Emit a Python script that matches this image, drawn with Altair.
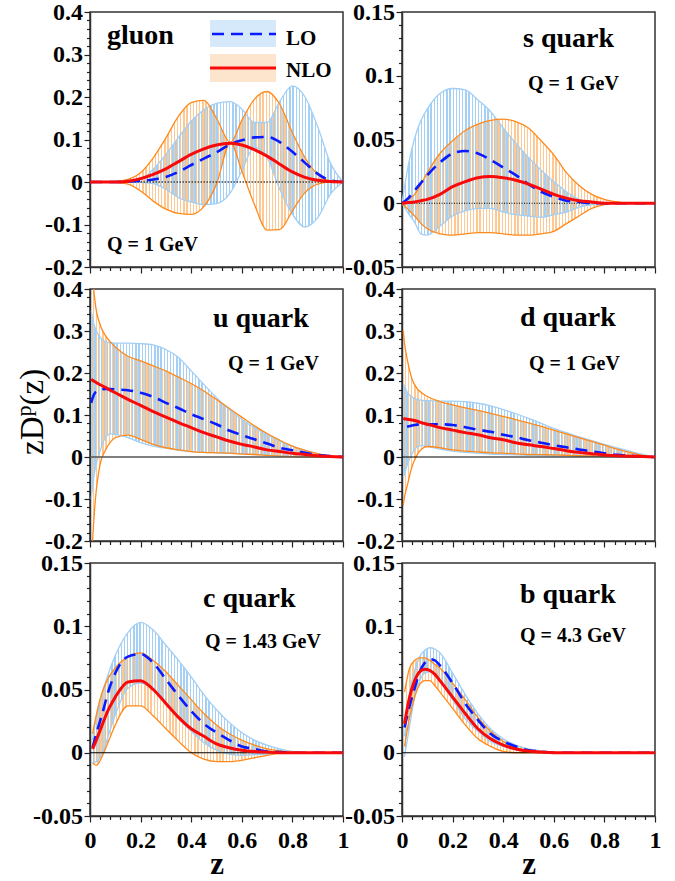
import altair as alt
import pandas as pd

SERIF = "Liberation Serif"

# ---------------------------------------------------------------
# Fragmentation functions zD^p(z): LO / NLO central values and
# uncertainty bands (lo, hi) for each parton.
# ---------------------------------------------------------------

# gluon, Q = 1 GeV
g_z = [0, 0.05, 0.1, 0.15, 0.2, 0.25, 0.3, 0.35, 0.4, 0.45, 0.5, 0.555,
       0.6, 0.65, 0.7, 0.75, 0.8, 0.85, 0.9, 0.95, 1.0]
g_lo_c = [0, 0, 0, 0.001, 0.003, 0.006, 0.012, 0.024, 0.04, 0.055, 0.07, 0.089,
          0.098, 0.105, 0.106, 0.094, 0.071, 0.045, 0.019, 0.004, 0]
g_lo_lo = [0, 0, 0, 0, -0.001, -0.004, -0.017, -0.037, -0.047, -0.053, -0.051, -0.025,
           0.026, 0.082, 0.057, -0.017, -0.076, -0.106, -0.084, -0.029, 0]
g_lo_hi = [0, 0, 0, 0.001, 0.005, 0.03, 0.065, 0.105, 0.143, 0.17, 0.185, 0.189,
           0.172, 0.14, 0.14, 0.19, 0.226, 0.2, 0.13, 0.045, 0]
g_nlo_c = [0, 0, 0, 0.002, 0.008, 0.018, 0.031, 0.048, 0.065, 0.078, 0.087, 0.091,
           0.087, 0.076, 0.061, 0.042, 0.024, 0.011, 0.004, 0.001, 0]
g_nlo_lo = [0, 0, -0.001, -0.005, -0.021, -0.045, -0.064, -0.074, -0.076, -0.058, -0.005, 0.093,
            0.026, -0.053, -0.113, -0.112, -0.068, -0.025, -0.005, 0, 0]
g_nlo_hi = [0, 0, 0.001, 0.006, 0.022, 0.057, 0.104, 0.155, 0.187, 0.192, 0.15, 0.093,
            0.145, 0.195, 0.213, 0.183, 0.116, 0.057, 0.018, 0.002, 0]

# s quark, Q = 1 GeV
s_z = [0, 0.025, 0.05, 0.075, 0.1, 0.15, 0.2, 0.25, 0.3, 0.35, 0.4, 0.45, 0.5,
       0.55, 0.6, 0.65, 0.7, 0.75, 0.8, 0.85, 0.9, 0.95, 1.0]
s_lo_c = [0, 0.004, 0.010, 0.016, 0.022, 0.032, 0.039, 0.041, 0.039, 0.034, 0.028, 0.022, 0.015,
          0.009, 0.005, 0.002, 0.001, 0, 0, 0, 0, 0, 0]
s_lo_lo = [0, -0.008, -0.015, -0.024, -0.025, -0.018, -0.010, -0.006, -0.004, -0.004, -0.007, -0.009, -0.010,
           -0.011, -0.009, -0.007, -0.003, -0.001, 0, 0, 0, 0, 0]
s_lo_hi = [0, 0.03, 0.051, 0.065, 0.074, 0.086, 0.090, 0.089, 0.081, 0.072, 0.059, 0.047, 0.036,
           0.026, 0.017, 0.009, 0.003, 0.001, 0, 0, 0, 0, 0]
s_nlo_c = [0, 0.0005, 0.001, 0.002, 0.003, 0.007, 0.013, 0.017, 0.020, 0.021, 0.020, 0.018, 0.015,
           0.011, 0.007, 0.004, 0.002, 0.001, 0, 0, 0, 0, 0]
s_nlo_lo = [0, -0.005, -0.010, -0.016, -0.020, -0.024, -0.025, -0.024, -0.023, -0.023, -0.024, -0.025, -0.025,
            -0.024, -0.022, -0.016, -0.010, -0.004, -0.001, 0, 0, 0, 0]
s_nlo_hi = [0, 0.003, 0.007, 0.015, 0.024, 0.039, 0.049, 0.057, 0.062, 0.065, 0.066, 0.064, 0.059,
            0.049, 0.038, 0.024, 0.014, 0.007, 0.003, 0.001, 0, 0, 0]

# u quark, Q = 1 GeV
u_z = [0.005, 0.01, 0.02, 0.04, 0.06, 0.08, 0.1, 0.15, 0.2, 0.25, 0.3, 0.35, 0.4,
       0.45, 0.5, 0.55, 0.6, 0.65, 0.7, 0.75, 0.8, 0.85, 0.9, 0.95, 1.0]
u_lo_c = [0.129, 0.14, 0.153, 0.16, 0.162, 0.162, 0.161, 0.159, 0.153, 0.143, 0.129, 0.116, 0.102,
          0.09, 0.078, 0.063, 0.052, 0.042, 0.032, 0.022, 0.016, 0.01, 0.005, 0.002, 0]
u_lo_lo = [-0.1, -0.07, -0.03, 0.015, 0.045, 0.055, 0.054, 0.046, 0.034, 0.026, 0.021, 0.016, 0.013,
           0.011, 0.01, 0.009, 0.008, 0.006, 0.005, 0.002, 0.001, 0, 0, 0, 0]
u_lo_hi = [0.348, 0.33, 0.308, 0.285, 0.275, 0.272, 0.271, 0.271, 0.27, 0.267, 0.256, 0.237, 0.205,
           0.173, 0.141, 0.113, 0.09, 0.07, 0.054, 0.038, 0.026, 0.016, 0.008, 0.002, 0]
u_nlo_c = [0.185, 0.183, 0.179, 0.172, 0.166, 0.159, 0.153, 0.137, 0.123, 0.108, 0.095, 0.082, 0.07,
           0.058, 0.048, 0.038, 0.03, 0.024, 0.017, 0.013, 0.009, 0.006, 0.003, 0.001, 0]
u_nlo_lo = [-0.26, -0.2, -0.11, -0.017, 0.015, 0.035, 0.046, 0.052, 0.042, 0.03, 0.022, 0.017, 0.013,
            0.011, 0.01, 0.009, 0.007, 0.006, 0.004, 0.002, 0.001, 0, 0, 0, 0]
u_nlo_hi = [0.52, 0.44, 0.37, 0.315, 0.29, 0.274, 0.262, 0.24, 0.229, 0.217, 0.205, 0.19, 0.175,
            0.157, 0.137, 0.116, 0.095, 0.074, 0.056, 0.04, 0.026, 0.016, 0.008, 0.002, 0]

# d quark, Q = 1 GeV
d_z = u_z
d_lo_c = [None, None, 0.072, 0.075, 0.077, 0.078, 0.078, 0.078, 0.076, 0.071, 0.065, 0.06, 0.053,
          0.047, 0.04, 0.034, 0.028, 0.023, 0.018, 0.013, 0.009, 0.005, 0.003, 0.001, 0]
d_lo_lo = [-0.05, -0.04, -0.02, 0.008, 0.024, 0.027, 0.025, 0.019, 0.014, 0.011, 0.009, 0.007, 0.006,
           0.005, 0.004, 0.0035, 0.003, 0.0025, 0.002, 0.0015, 0.001, 0.0005, 0, 0, 0]
d_lo_hi = [0.175, 0.168, 0.155, 0.143, 0.137, 0.135, 0.134, 0.133, 0.133, 0.132, 0.128, 0.122, 0.113,
           0.103, 0.092, 0.08, 0.068, 0.058, 0.048, 0.039, 0.03, 0.022, 0.014, 0.006, 0]
d_nlo_c = [0.092, 0.091, 0.09, 0.088, 0.085, 0.081, 0.078, 0.07, 0.064, 0.058, 0.053, 0.046, 0.041,
           0.034, 0.029, 0.025, 0.02, 0.015, 0.011, 0.008, 0.005, 0.003, 0.002, 0.001, 0]
d_nlo_lo = [-0.115, -0.095, -0.07, -0.022, 0.005, 0.02, 0.025, 0.022, 0.017, 0.014, 0.012, 0.01, 0.009,
            0.0075, 0.006, 0.0055, 0.005, 0.004, 0.003, 0.0025, 0.002, 0.0015, 0.001, 0.0005, 0]
d_nlo_hi = [0.3, 0.27, 0.235, 0.185, 0.163, 0.152, 0.144, 0.132, 0.124, 0.117, 0.111, 0.104, 0.097,
            0.089, 0.081, 0.073, 0.064, 0.055, 0.046, 0.037, 0.028, 0.019, 0.011, 0.004, 0]

# c quark, Q = 1.43 GeV
c_z = [0.01, 0.025, 0.05, 0.075, 0.1, 0.15, 0.2, 0.25, 0.3, 0.35, 0.4, 0.45, 0.5,
       0.55, 0.6, 0.65, 0.7, 0.75, 0.8, 0.85, 0.9, 0.95, 1.0]
c_lo_c = [0.004, 0.015, 0.032, 0.05, 0.063, 0.076, 0.078, 0.071, 0.058, 0.045, 0.033, 0.023, 0.016,
          0.01, 0.005, 0.003, 0.001, 0.0005, 0, 0, 0, 0, 0]
c_lo_lo = [-0.008, -0.007, 0.0, 0.015, 0.03, 0.051, 0.055, 0.05, 0.04, 0.027, 0.017, 0.008, 0.002,
           -0.001, -0.002, -0.0015, -0.001, 0, 0, 0, 0, 0, 0]
c_lo_hi = [0.01, 0.028, 0.048, 0.064, 0.077, 0.095, 0.103, 0.097, 0.085, 0.073, 0.06, 0.046, 0.034,
           0.024, 0.016, 0.01, 0.006, 0.003, 0.001, 0, 0, 0, 0]
c_nlo_c = [0.003, 0.01, 0.023, 0.035, 0.044, 0.056, 0.057, 0.05, 0.039, 0.028, 0.019, 0.013, 0.007,
           0.004, 0.002, 0.001, 0.0005, 0, 0, 0, 0, 0, 0]
c_nlo_lo = [-0.008, -0.01, -0.002, 0.01, 0.022, 0.037, 0.037, 0.029, 0.019, 0.009, 0.0, -0.005, -0.007,
            -0.007, -0.006, -0.004, -0.002, -0.0005, 0, 0, 0, 0, 0]
c_nlo_hi = [0.015, 0.03, 0.049, 0.06, 0.067, 0.076, 0.079, 0.073, 0.064, 0.053, 0.042, 0.031, 0.022,
            0.015, 0.01, 0.006, 0.003, 0.0015, 0.0005, 0, 0, 0, 0]

# b quark, Q = 4.3 GeV
b_z = [0.01, 0.03, 0.05, 0.07, 0.09, 0.11, 0.13, 0.15, 0.2, 0.25, 0.3, 0.35, 0.4,
       0.45, 0.5, 0.55, 0.6, 0.65, 0.7, 0.75, 0.8, 0.85, 0.9, 0.95, 1.0]
b_lo_c = [0.02, 0.037, 0.051, 0.064, 0.071, 0.074, 0.073, 0.069, 0.055, 0.039, 0.026, 0.015, 0.009,
          0.005, 0.002, 0.001, 0, 0, 0, 0, 0, 0, 0, 0, 0]
b_lo_lo = [-0.003, 0.021, 0.044, 0.057, 0.063, 0.064, 0.062, 0.057, 0.042, 0.027, 0.017, 0.009, 0.005,
           0.003, 0.001, 0.0005, 0, 0, 0, 0, 0, 0, 0, 0, 0]
b_lo_hi = [0.013, 0.047, 0.065, 0.076, 0.081, 0.083, 0.082, 0.079, 0.063, 0.046, 0.031, 0.019, 0.011,
           0.006, 0.003, 0.0015, 0.0005, 0, 0, 0, 0, 0, 0, 0, 0]
b_nlo_c = [0.023, 0.044, 0.057, 0.064, 0.066, 0.065, 0.062, 0.057, 0.044, 0.031, 0.019, 0.011, 0.006,
           0.003, 0.0013, 0.0005, 0, 0, 0, 0, 0, 0, 0, 0, 0]
b_nlo_lo = [0.005, 0.028, 0.044, 0.054, 0.057, 0.057, 0.053, 0.048, 0.035, 0.022, 0.011, 0.005, 0.001,
            0, 0, 0, 0, 0, 0, 0, 0, 0, 0, 0, 0]
b_nlo_hi = [0.048, 0.067, 0.073, 0.075, 0.075, 0.073, 0.07, 0.067, 0.055, 0.042, 0.028, 0.017, 0.009,
            0.004, 0.002, 0.001, 0, 0, 0, 0, 0, 0, 0, 0, 0]

# ---------------------------------------------------------------
# styling
# ---------------------------------------------------------------
LO_HATCH = "#a5d0f6"
NLO_HATCH = "#fdc892"
LO_EDGE = "#a3cff5"
NLO_EDGE = "#ff8a1c"
LO_LINE = "#0a1cff"
NLO_LINE = "#f80a0a"
CLEAR = "rgba(255,255,255,0)"
X_MAJOR, X_MINOR = 0.2, 0.04
TICK_FONT_SIZE = 24


def hatch(color, n=80, duty=0.42, phase=0.0):
    """Vertical hatching as a horizontal hard-stop linear gradient."""
    stops = [{"offset": 0, "color": CLEAR}]
    for i in range(n):
        a = (i + phase) / n
        b = (i + phase + duty) / n
        if b > 1:
            break
        a, b = round(a, 5), round(b, 5)
        stops += [{"offset": a, "color": CLEAR}, {"offset": a, "color": color},
                  {"offset": b, "color": color}, {"offset": b, "color": CLEAR}]
    stops.append({"offset": 1, "color": CLEAR})
    return {"gradient": "linear", "x1": 0, "x2": 1, "y1": 0, "y2": 0, "stops": stops}


def tick_values(lo, hi, major, minor):
    n = round((hi - lo) / minor)
    vals = [round(lo + i * minor, 6) for i in range(n + 1)]
    is_major = [abs(v / major - round(v / major)) < 1e-6 for v in vals]
    majors = [v for v, m in zip(vals, is_major) if m]
    minors = [v for v, m in zip(vals, is_major) if not m]
    return majors, minors


# plain hyphen for negative numbers
LABEL = "(datum.value < 0 ? '-' : '') + format(abs(datum.value), '~g')"


def major_axis(orient, values, show_labels, pad, title=None):
    kw = dict(orient=orient, values=values, grid=False, tickSize=6, tickWidth=1.2,
              tickColor="#222222", domainColor="#333333", domainWidth=1.5,
              labelFlush=False, labelOverlap=False)
    if show_labels:
        kw.update(labelExpr=LABEL, labelPadding=pad, labelFont=SERIF, labelFontWeight="bold",
                  labelFontSize=TICK_FONT_SIZE, labelColor="black")
    else:
        kw.update(labels=False)
    if title:
        kw.update(title=title, titleY=57, titleBaseline="alphabetic", titleFontSize=31,
                  titleFont=SERIF, titleFontWeight="bold", titleColor="black")
    else:
        kw.update(title=None)
    return alt.Axis(**kw)


def minor_axis(orient, values):
    return alt.Axis(orient=orient, values=values, grid=False, tickSize=3.5, tickWidth=1.2,
                    tickColor="#222222", labels=False, domain=False, title=None)


def text_layer(txt, x, y, size, weight="bold", angle=0):
    kw = dict(font=SERIF, fontSize=size, fontWeight=weight, color="black",
              align="left", baseline="alphabetic")
    if angle:
        kw["angle"] = angle
    return alt.Chart(pd.DataFrame({"t": [txt]})).mark_text(**kw).encode(
        text="t:N", x=alt.value(x), y=alt.value(y))


def panel(z, lo_c, lo_lo, lo_hi, nlo_c, nlo_lo, nlo_hi, ydom, major, minor, height,
          name, q, name_xy, q_xy, zero, bottom=False, legend=False, ytitle=False):
    xs = alt.Scale(domain=[0, 1], nice=False, zero=False)
    ys = alt.Scale(domain=ydom, nice=False, zero=False)
    x_maj, x_min = tick_values(0, 1, X_MAJOR, X_MINOR)
    y_maj, y_min = tick_values(ydom[0], ydom[1], major, minor)
    xa = major_axis("bottom", x_maj, bottom, 6, "z" if bottom else None)
    ya = major_axis("left", y_maj, True, 1.5)

    band_lo = pd.DataFrame({"z": z, "lo": lo_lo, "hi": lo_hi})
    band_nlo = pd.DataFrame({"z": z, "lo": nlo_lo, "hi": nlo_hi})
    edge_lo = pd.concat([pd.DataFrame({"z": z, "v": lo_lo, "e": "lo"}),
                         pd.DataFrame({"z": z, "v": lo_hi, "e": "hi"})])
    edge_nlo = pd.concat([pd.DataFrame({"z": z, "v": nlo_lo, "e": "lo"}),
                          pd.DataFrame({"z": z, "v": nlo_hi, "e": "hi"})])
    cen_lo = pd.DataFrame({"z": z, "v": lo_c}).dropna()
    cen_nlo = pd.DataFrame({"z": z, "v": nlo_c}).dropna()

    # every layer carries the same axis definition so that they merge cleanly
    X = alt.X("z:Q", scale=xs, axis=xa)
    Yv = alt.Y("v:Q", scale=ys, axis=ya)
    Ylo = alt.Y("lo:Q", scale=ys, axis=ya)

    layers = [
        alt.Chart(band_lo).mark_area(interpolate="monotone", fill=hatch(LO_HATCH), clip=True)
        .encode(x=X, y=Ylo, y2="hi:Q"),
        alt.Chart(band_nlo).mark_area(interpolate="monotone", fill=hatch(NLO_HATCH, phase=0.5), clip=True)
        .encode(x=X, y=Ylo, y2="hi:Q"),
        alt.Chart(edge_lo).mark_line(interpolate="monotone", color=LO_EDGE, strokeWidth=1.3, clip=True)
        .encode(x=X, y=Yv, detail="e:N"),
        alt.Chart(edge_nlo).mark_line(interpolate="monotone", color=NLO_EDGE, strokeWidth=1.3, clip=True)
        .encode(x=X, y=Yv, detail="e:N"),
    ]
    zkw = dict(color=zero[0], strokeWidth=zero[1])
    if zero[2]:
        zkw["strokeDash"] = zero[2]
    layers.append(alt.Chart(pd.DataFrame({"v": [0.0]})).mark_rule(**zkw).encode(y=Yv))
    layers += [
        alt.Chart(cen_lo).mark_line(interpolate="monotone", color=LO_LINE, strokeWidth=2.6,
                                    strokeDash=[12, 7], clip=True)
        .encode(x=X, y=Yv),
        alt.Chart(cen_nlo).mark_line(interpolate="monotone", color=NLO_LINE, strokeWidth=3, clip=True)
        .encode(x=X, y=Yv),
        text_layer(name, name_xy[0], name_xy[1], 28),
        text_layer(q, q_xy[0], q_xy[1], 20),
    ]

    if legend:
        one = pd.DataFrame({"k": [0]})
        layers += [
            alt.Chart(one).mark_rect(color="#d6e9fb").encode(
                x=alt.value(120), x2=alt.value(186), y=alt.value(8), y2=alt.value(35)),
            alt.Chart(one).mark_rect(color="#fde4cc").encode(
                x=alt.value(120), x2=alt.value(186), y=alt.value(42), y2=alt.value(70)),
            alt.Chart(one).mark_rule(color=LO_LINE, strokeWidth=2.6, strokeDash=[12, 7]).encode(
                x=alt.value(122), x2=alt.value(186), y=alt.value(22)),
            alt.Chart(one).mark_rule(color=NLO_LINE, strokeWidth=3).encode(
                x=alt.value(120), x2=alt.value(186), y=alt.value(56)),
            text_layer("LO", 196, 33, 21),
            text_layer("NLO", 196, 65, 21),
        ]

    if ytitle:
        # zD^p(z), read bottom to top, with a raised p
        layers += [
            text_layer("zD", -47, 166, 33, weight="normal", angle=270),
            text_layer("p", -59, 127.5, 22, weight="normal", angle=270),
            text_layer("(z)", -47, 116.5, 33, weight="normal", angle=270),
        ]

    main = alt.layer(*layers)
    # invisible layer that only carries the minor tick marks
    minor_ticks = alt.Chart(band_lo).mark_point(opacity=0).encode(
        x=alt.X("z:Q", scale=xs, axis=minor_axis("bottom", x_min)),
        y=alt.Y("lo:Q", scale=ys, axis=minor_axis("left", y_min)),
    )
    return (alt.layer(main, minor_ticks)
            .resolve_axis(x="independent", y="independent")
            .properties(width=253, height=height))


DOT_GRAY = ("#444444", 1.4, [1.5, 1.5])
DOT_BLACK = ("#000000", 1.1, [1, 1.5])
SOLID_GRAY = ("#555555", 1.5, None)
SOLID_BLACK = ("#000000", 1.1, None)

p_g = panel(g_z, g_lo_c, g_lo_lo, g_lo_hi, g_nlo_c, g_nlo_lo, g_nlo_hi, [-0.2, 0.4], 0.1, 0.02, 255,
            "gluon", "Q = 1 GeV", (17, 32), (17, 238.7), DOT_GRAY, legend=True)
p_s = panel(s_z, s_lo_c, s_lo_lo, s_lo_hi, s_nlo_c, s_nlo_lo, s_nlo_hi, [-0.05, 0.15], 0.05, 0.01, 255,
            "s quark", "Q = 1 GeV", (121, 34.7), (126, 78), DOT_BLACK)
p_u = panel(u_z, u_lo_c, u_lo_lo, u_lo_hi, u_nlo_c, u_nlo_lo, u_nlo_hi, [-0.2, 0.4], 0.1, 0.02, 252,
            "u quark", "Q = 1 GeV", (123, 37.7), (138, 81), SOLID_GRAY, ytitle=True)
p_d = panel(d_z, d_lo_c, d_lo_lo, d_lo_hi, d_nlo_c, d_nlo_lo, d_nlo_hi, [-0.2, 0.4], 0.1, 0.02, 252,
            "d quark", "Q = 1 GeV", (118, 37), (127, 81), SOLID_BLACK)
p_c = panel(c_z, c_lo_c, c_lo_lo, c_lo_hi, c_nlo_c, c_nlo_lo, c_nlo_hi, [-0.05, 0.15], 0.05, 0.01, 253,
            "c quark", "Q = 1.43 GeV", (113, 43.7), (115, 85.3), SOLID_BLACK, bottom=True)
p_b = panel(b_z, b_lo_c, b_lo_lo, b_lo_hi, b_nlo_c, b_nlo_lo, b_nlo_hi, [-0.05, 0.15], 0.05, 0.01, 253,
            "b quark", "Q = 4.3 GeV", (118, 40.3), (118, 78.7), SOLID_BLACK, bottom=True)

chart = alt.concat(
    p_g, p_s, p_u, p_d, p_c, p_b,
    columns=2, spacing={"row": 22, "column": 59}, bounds="flush", align="each",
).properties(
    autosize=alt.AutoSizeParams(type="none"),
    padding={"left": 90, "top": 12, "right": 585, "bottom": 869},
    background="white",
).configure_view(
    stroke="#333333", strokeWidth=1.5,
)

chart.save("out.html", embed_options={"renderer": "svg", "actions": False})
